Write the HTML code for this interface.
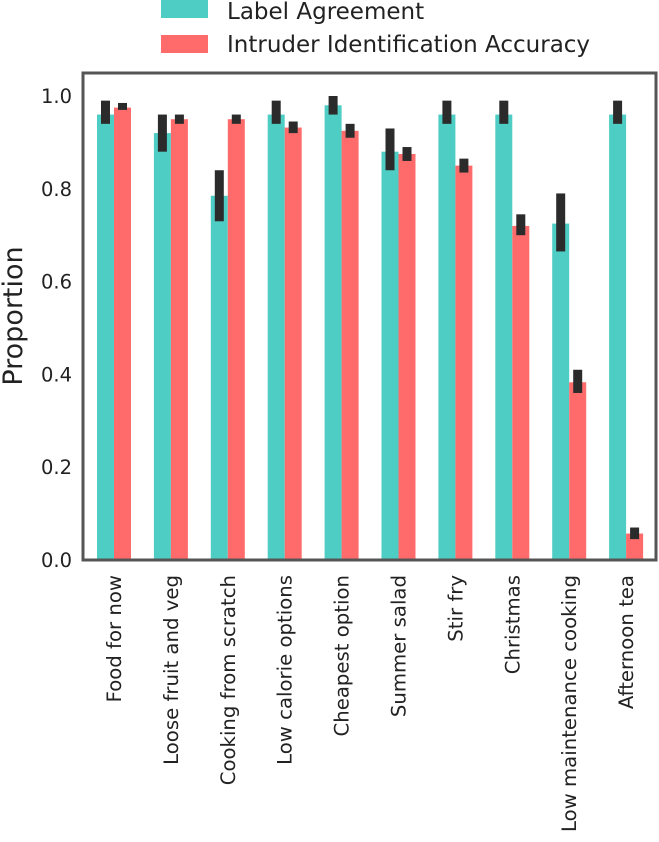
<!DOCTYPE html>
<html><head><meta charset="utf-8"><style>
body{margin:0;background:#fff}
text{font-family:"DejaVu Sans","Liberation Sans",sans-serif;fill:#222}
</style></head><body>
<svg id="chart" width="659" height="837" xmlns="http://www.w3.org/2000/svg">
<g>
<rect x="161" y="0" width="47" height="18" fill="#4ecdc4"/>
<text x="227" y="19" font-size="23">Label Agreement</text>
<rect x="161" y="35" width="47" height="18" fill="#ff6b6b"/>
<text x="227" y="52" font-size="23">Intruder Identification Accuracy</text>
</g>
<text transform="translate(22,316) rotate(-90)" text-anchor="middle" font-size="27">Proportion</text>
<g id="marks"></g>
<rect x="83" y="73" width="573" height="487" fill="none" stroke="#555" stroke-width="3"/>
</svg>
<script>
const categories=["Food for now","Loose fruit and veg","Cooking from scratch","Low calorie options","Cheapest option","Summer salad","Stir fry","Christmas","Low maintenance cooking","Afternoon tea"];
const labelAgreement=[0.96,0.92,0.785,0.96,0.98,0.88,0.96,0.96,0.725,0.96];
const labelLo=[0.94,0.88,0.73,0.94,0.96,0.84,0.94,0.94,0.665,0.94];
const labelHi=[0.99,0.96,0.84,0.99,1.0,0.93,0.99,0.99,0.79,0.99];
const intruder=[0.975,0.95,0.95,0.932,0.925,0.875,0.85,0.72,0.383,0.057];
const intruderLo=[0.97,0.94,0.94,0.92,0.91,0.86,0.835,0.70,0.36,0.045];
const intruderHi=[0.985,0.96,0.96,0.945,0.94,0.89,0.865,0.745,0.41,0.07];
const yTicks=[0,0.2,0.4,0.6,0.8,1.0];
const ns="http://www.w3.org/2000/svg";
const g=document.getElementById('marks');
const y=v=>560-464*v;
const x0=i=>97+56.9*i;
const bw=17;
function mk(t,a,p){const e=document.createElementNS(ns,t);for(const k in a)e.setAttribute(k,a[k]);(p||g).appendChild(e);return e;}
yTicks.forEach(t=>{
 const l=mk('text',{x:72,y:y(t)+7,'text-anchor':'end','font-size':19.5});l.textContent=t.toFixed(1);
 
 
});
categories.forEach((c,i)=>{
 const a=mk('rect',{x:x0(i),y:y(labelAgreement[i]),width:bw,height:560-y(labelAgreement[i]),fill:'#4ecdc4'});
 
 
 const b=mk('rect',{x:x0(i)+bw,y:y(intruder[i]),width:bw,height:560-y(intruder[i]),fill:'#ff6b6b'});
 
 
 const e1=mk('rect',{x:x0(i)+bw/2-4.5,y:y(labelHi[i]),width:9,height:y(labelLo[i])-y(labelHi[i]),fill:'#2b2b2b'});
 
 
 const e2=mk('rect',{x:x0(i)+bw*1.5-4.5,y:y(intruderHi[i]),width:9,height:y(intruderLo[i])-y(intruderHi[i]),fill:'#2b2b2b'});
 
 
 const cx=x0(i)+bw+7;
 const t=mk('text',{transform:`translate(${cx},575) rotate(-90)`,'text-anchor':'end','font-size':19.7});
 t.textContent=c;
 
 
});
</script>
</body></html>
